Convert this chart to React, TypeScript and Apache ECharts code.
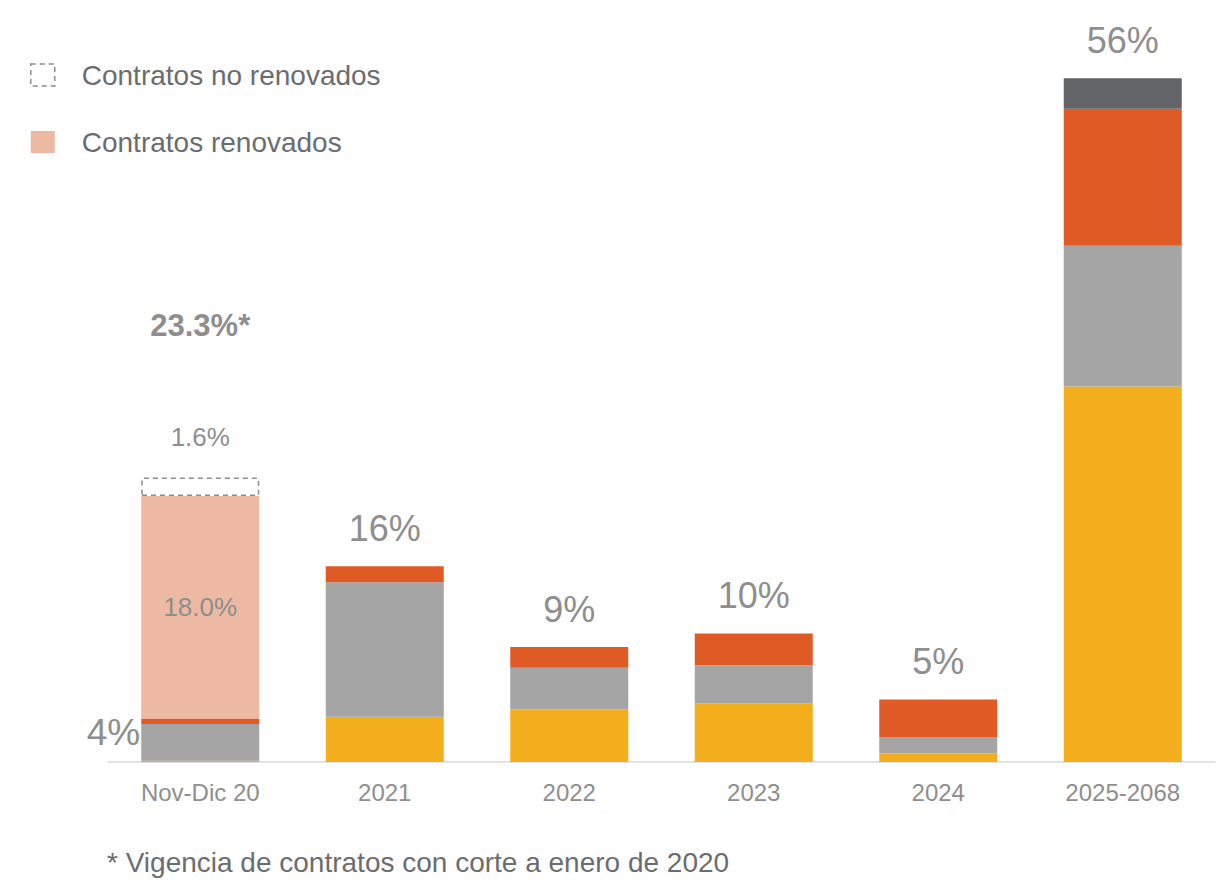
import React, { useEffect, useRef } from "react";
import * as echarts from "echarts";

const categories = ["Nov-Dic 20", "2021", "2022", "2023", "2024", "2025-2068"];
const yellowValues = [0.1, 3.7, 4.3, 4.8, 0.7, 30.7];
const grayValues = [3.0, 11.0, 3.4, 3.1, 1.3, 11.5];
const orangeValues = [0.45, 1.3, 1.7, 2.6, 3.1, 11.2];
const darkValues = ["-", "-", "-", "-", "-", 2.5];
const renovadosValues = [18.2, "-", "-", "-", "-", "-"];
const noRenovadosValues = [1.5, "-", "-", "-", "-", "-"];
const totalLabels = ["23.3%*", "16%", "9%", "10%", "5%", "56%"];
const firstBarLabel = "4%";
const renovadosLabel = "18.0%";
const noRenovadosLabel = "1.6%";
const footnote = "* Vigencia de contratos con corte a enero de 2020";

const FONT = "'Liberation Sans', Arial, sans-serif";
const LABEL_GRAY = "#8e8e8e";
const TEXT_GRAY = "#6b6c6f";

export default function App() {
  const ref = useRef<HTMLDivElement>(null);
  useEffect(() => {
    if (!ref.current) return;
    const chart = echarts.init(ref.current, undefined, { renderer: "svg" });
    const stack = "s";
    const barWidth = 118;
    chart.setOption({
      animation: false,
      textStyle: { fontFamily: FONT },
      grid: { left: 108, right: 2, top: 77, bottom: 131, containLabel: false },
      title: {
        text: footnote,
        left: 102,
        top: 843,
        textStyle: { fontFamily: FONT, fontSize: 28, fontWeight: "normal", color: TEXT_GRAY },
      },
      legend: {
        orient: "vertical",
        left: 25,
        top: 56,
        itemWidth: 24,
        itemHeight: 22,
        itemGap: 39,
        icon: "rect",
        selectedMode: false,
        textStyle: { fontFamily: FONT, fontSize: 28, color: TEXT_GRAY, padding: [0, 0, 0, 22] },
        data: [
          {
            name: "Contratos no renovados",
            itemStyle: { color: "rgba(0,0,0,0)", borderColor: "#8c8c8c", borderWidth: 1.5, borderType: [5, 4] },
          },
          { name: "Contratos renovados", itemStyle: { color: "#EDB9A3" } },
        ],
      },
      xAxis: {
        type: "category",
        data: categories,
        axisLine: { lineStyle: { color: "#d9d9d9", width: 1.5 } },
        axisTick: { show: false },
        axisLabel: { fontFamily: FONT, fontSize: 24, color: LABEL_GRAY, margin: 18 },
      },
      yAxis: { type: "value", min: 0, max: 56, show: false, splitLine: { show: false } },
      series: [
        {
          name: "Amarillo",
          type: "bar",
          stack,
          barWidth,
          itemStyle: { color: "#F3AE1E" },
          data: yellowValues,
        },
        {
          name: "Gris",
          type: "bar",
          stack,
          barWidth,
          itemStyle: { color: "#A5A5A5" },
          data: grayValues,
        },
        {
          name: "Naranja",
          type: "bar",
          stack,
          barWidth,
          itemStyle: { color: "#E05A25" },
          data: orangeValues.map((v, i) =>
            i === 0
              ? {
                  value: v,
                  label: {
                    show: true,
                    position: "left",
                    formatter: firstBarLabel,
                    fontFamily: FONT,
                    fontSize: 37,
                    color: LABEL_GRAY,
                    distance: 1,
                    offset: [0, 11],
                  },
                }
              : v
          ),
        },
        {
          name: "Gris oscuro",
          type: "bar",
          stack,
          barWidth,
          itemStyle: { color: "#636467" },
          data: darkValues,
        },
        {
          name: "Contratos renovados",
          type: "bar",
          stack,
          barWidth,
          itemStyle: { color: "#EDB9A3" },
          label: {
            show: true,
            position: "inside",
            formatter: renovadosLabel,
            fontFamily: FONT,
            fontSize: 26,
            color: LABEL_GRAY,
          },
          data: renovadosValues,
        },
        {
          name: "Contratos no renovados",
          type: "bar",
          stack,
          barWidth,
          itemStyle: { color: "rgba(0,0,0,0)", borderColor: "#8c8c8c", borderWidth: 1.5, borderType: [5, 4] },
          label: {
            show: true,
            position: "top",
            distance: 28,
            formatter: noRenovadosLabel,
            fontFamily: FONT,
            fontSize: 26,
            color: LABEL_GRAY,
          },
          data: noRenovadosValues,
        },
        {
          name: "Total",
          type: "bar",
          stack,
          barWidth,
          itemStyle: { color: "rgba(0,0,0,0)" },
          label: {
            show: true,
            position: "top",
            distance: 20,
            fontFamily: FONT,
            fontSize: 36,
            color: LABEL_GRAY,
            formatter: (p: any) => totalLabels[p.dataIndex],
          },
          data: totalLabels.map((_, i) =>
            i === 0
              ? {
                  value: 0,
                  label: { fontSize: 31, fontWeight: "bold", distance: 137 },
                }
              : 0
          ),
        },
      ],
    });
    return () => chart.dispose();
  }, []);
  return (
    <div
      ref={ref}
      style={{ position: "absolute", left: 0, top: 0, width: 1217, height: 893 }}
    />
  );
}
